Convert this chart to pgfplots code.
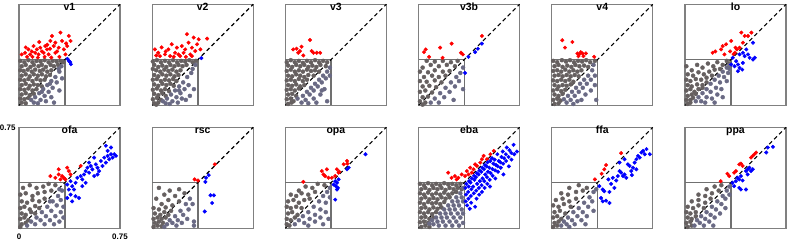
\documentclass[border=0pt]{standalone}
\usepackage{pgfplots}
\pgfplotsset{compat=1.18}
\usepackage{fontspec}
\setmainfont{Liberation Sans}
\definecolor{framegray}{RGB}{128,128,128}
\definecolor{boxgray}{RGB}{112,112,112}
\definecolor{gdark}{RGB}{102,96,96}
\definecolor{gblue}{RGB}{106,106,132}
\pgfplotsset{
 pnl/.style={width=101bp,height=101bp,scale only axis,xmin=0,xmax=0.75,ymin=0,ymax=0.75,
  xtick=\empty,ytick=\empty,axis line style={draw=framegray,line width=1.3bp},anchor=south west,
  title style={at={(0.5,1)},anchor=base,yshift=-12bp,font=\fontsize{10.5}{12}\selectfont\bfseries,inner sep=0pt},
  clip=false,/pgf/number format/assume math mode=true},
 gd/.style={only marks,mark=*,mark size=2.0bp,color=gdark},
 gb/.style={only marks,mark=*,mark size=2.0bp,color=gblue},
 rd/.style={only marks,mark=*,mark size=1.8bp,color=red},
 bl/.style={only marks,mark=*,mark size=1.8bp,color=blue},
 bx/.style={no marks,color=boxgray,line width=1.5bp},
 dg/.style={no marks,color=black,line width=1.1bp,dash pattern=on 4bp off 3bp},
}
\newcommand\boxdiag{%
 \addplot[bx] coordinates {(0,0.34)(0.34,0.34)(0.34,0)};
 \addplot[dg] coordinates {(0,0)(0.75,0.75)};}
\begin{document}
\begin{tikzpicture}
\useasboundingbox (0,0) rectangle (789bp,241bp);
% ---------- v1
\begin{axis}[pnl,at={(19bp,135.7bp)},title={v1}]
\addplot[gd] coordinates {(0.01,0.33)(0.04,0.32)(0.07,0.335)(0.10,0.32)(0.13,0.33)(0.16,0.325)(0.19,0.335)(0.22,0.32)(0.25,0.33)(0.28,0.325)(0.31,0.33)(0.33,0.32)
(0.02,0.29)(0.05,0.30)(0.085,0.285)(0.11,0.30)(0.145,0.29)(0.17,0.30)(0.20,0.285)(0.235,0.30)(0.26,0.29)(0.29,0.30)
(0.01,0.26)(0.035,0.255)(0.065,0.265)(0.095,0.25)(0.12,0.265)(0.155,0.255)(0.18,0.265)(0.21,0.25)(0.24,0.26)
(0.02,0.22)(0.05,0.23)(0.08,0.215)(0.11,0.23)(0.14,0.22)(0.17,0.23)(0.20,0.215)(0.23,0.225)
(0.01,0.19)(0.04,0.185)(0.07,0.195)(0.10,0.18)(0.13,0.195)(0.16,0.185)(0.19,0.19)
(0.02,0.15)(0.05,0.16)(0.08,0.145)(0.11,0.155)(0.14,0.15)(0.17,0.14)
(0.01,0.12)(0.04,0.115)(0.07,0.125)(0.10,0.11)(0.13,0.12)
(0.02,0.08)(0.05,0.09)(0.08,0.075)(0.11,0.085)(0.01,0.05)(0.04,0.045)(0.07,0.055)(0.02,0.02)(0.05,0.015)};
\addplot[gb] coordinates {(0.12,0.06)(0.15,0.09)(0.18,0.12)(0.21,0.15)(0.24,0.18)(0.27,0.21)(0.30,0.25)(0.16,0.04)(0.19,0.07)(0.22,0.10)(0.25,0.13)(0.28,0.17)(0.11,0.02)(0.14,0.015)(0.20,0.03)(0.24,0.06)(0.26,0.02)(0.30,0.11)(0.32,0.20)(0.09,0.04)(0.23,0.16)(0.17,0.10)(0.315,0.29)(0.295,0.27)};
\boxdiag
\addplot[rd] coordinates {(0.02,0.378)(0.045,0.39)(0.07,0.415)(0.083,0.378)(0.095,0.40)(0.108,0.44)(0.12,0.39)(0.133,0.415)(0.145,0.378)(0.158,0.428)(0.17,0.40)(0.183,0.39)(0.195,0.44)(0.208,0.415)(0.22,0.378)(0.233,0.478)(0.245,0.515)(0.258,0.44)(0.27,0.465)(0.283,0.40)(0.295,0.428)(0.308,0.54)(0.32,0.478)(0.333,0.415)(0.345,0.378)(0.358,0.44)(0.37,0.515)(0.383,0.478)(0.06,0.36)(0.10,0.36)(0.14,0.355)(0.19,0.36)(0.24,0.355)(0.30,0.36)(0.05,0.43)(0.23,0.42)(0.15,0.47)(0.27,0.39)(0.35,0.46)(0.21,0.45)};
\addplot[bl] coordinates {(0.36,0.345)(0.37,0.33)(0.38,0.32)(0.385,0.305)};
\end{axis}
% ---------- v2
\begin{axis}[pnl,at={(152.2bp,135.7bp)},title={v2}]
\addplot[gd] coordinates {(0.005,0.325)(0.035,0.335)(0.065,0.32)(0.095,0.33)(0.125,0.32)(0.155,0.335)(0.185,0.32)(0.215,0.33)(0.245,0.325)(0.275,0.335)(0.30,0.32)(0.325,0.33)
(0.015,0.30)(0.045,0.285)(0.075,0.295)(0.105,0.285)(0.135,0.30)(0.165,0.29)(0.195,0.30)(0.225,0.29)(0.255,0.30)
(0.005,0.27)(0.03,0.26)(0.06,0.25)(0.09,0.265)(0.12,0.255)(0.15,0.265)(0.18,0.25)(0.21,0.26)
(0.015,0.225)(0.045,0.215)(0.075,0.23)(0.105,0.22)(0.135,0.23)(0.165,0.215)(0.195,0.225)
(0.005,0.19)(0.035,0.195)(0.065,0.18)(0.095,0.19)(0.125,0.185)(0.155,0.195)(0.18,0.18)
(0.015,0.155)(0.045,0.145)(0.075,0.16)(0.105,0.15)(0.135,0.16)(0.16,0.145)
(0.005,0.115)(0.035,0.125)(0.065,0.11)(0.095,0.12)(0.125,0.105)
(0.015,0.085)(0.045,0.075)(0.075,0.09)(0.10,0.07)(0.005,0.045)(0.035,0.055)(0.065,0.04)(0.015,0.015)(0.045,0.02)(0.03,0.005)};
\addplot[gb] coordinates {(0.11,0.05)(0.14,0.08)(0.17,0.11)(0.20,0.14)(0.23,0.17)(0.26,0.21)(0.29,0.24)(0.15,0.03)(0.18,0.06)(0.21,0.09)(0.24,0.12)(0.27,0.15)(0.10,0.015)(0.13,0.01)(0.19,0.02)(0.22,0.05)(0.28,0.07)(0.31,0.12)(0.25,0.04)(0.08,0.03)(0.20,0.11)(0.30,0.27)(0.32,0.30)};
\boxdiag
\addplot[rd] coordinates {(0.02,0.415)(0.045,0.39)(0.07,0.43)(0.095,0.378)(0.12,0.415)(0.145,0.453)(0.17,0.39)(0.183,0.428)(0.195,0.378)(0.22,0.44)(0.233,0.39)(0.245,0.415)(0.258,0.528)(0.27,0.465)(0.283,0.378)(0.295,0.428)(0.308,0.503)(0.32,0.403)(0.333,0.453)(0.345,0.49)(0.358,0.415)(0.408,0.495)(0.133,0.365)(0.208,0.365)(0.058,0.365)(0.295,0.365)(0.03,0.37)(0.16,0.36)(0.25,0.36)(0.10,0.40)};
\addplot[bl] coordinates {(0.365,0.35)};
\end{axis}
% ---------- v3
\begin{axis}[pnl,at={(285.4bp,135.7bp)},title={v3}]
\addplot[gd] coordinates {(0.01,0.32)(0.04,0.335)(0.07,0.32)(0.10,0.33)(0.13,0.315)(0.16,0.33)(0.19,0.32)(0.22,0.335)(0.25,0.32)(0.28,0.33)(0.31,0.32)
(0.02,0.295)(0.05,0.285)(0.08,0.30)(0.11,0.29)(0.14,0.30)(0.17,0.285)(0.20,0.295)(0.23,0.285)(0.26,0.30)(0.30,0.29)
(0.01,0.255)(0.04,0.265)(0.07,0.25)(0.10,0.26)(0.13,0.25)(0.16,0.265)(0.19,0.255)(0.22,0.26)(0.25,0.25)
(0.02,0.22)(0.05,0.215)(0.08,0.23)(0.11,0.22)(0.14,0.21)(0.17,0.225)(0.21,0.22)
(0.01,0.185)(0.04,0.19)(0.07,0.18)(0.10,0.195)(0.13,0.18)(0.16,0.19)
(0.02,0.15)(0.05,0.145)(0.08,0.155)(0.11,0.14)(0.14,0.15)
(0.01,0.115)(0.04,0.12)(0.07,0.11)(0.10,0.125)(0.02,0.08)(0.05,0.085)(0.08,0.07)(0.01,0.045)(0.04,0.05)(0.06,0.03)(0.02,0.01)(0.045,0.02)};
\addplot[gb] coordinates {(0.13,0.07)(0.16,0.10)(0.19,0.13)(0.22,0.16)(0.25,0.19)(0.28,0.22)(0.31,0.25)(0.33,0.28)(0.15,0.04)(0.18,0.08)(0.21,0.11)(0.24,0.14)(0.27,0.17)(0.30,0.20)(0.33,0.22)(0.12,0.02)(0.17,0.015)(0.21,0.05)(0.26,0.08)(0.29,0.12)(0.31,0.03)(0.09,0.05)(0.23,0.02)(0.27,0.11)};
\boxdiag
\addplot[rd] coordinates {(0.058,0.415)(0.083,0.42)(0.095,0.39)(0.108,0.403)(0.12,0.435)(0.133,0.37)(0.183,0.485)(0.195,0.403)(0.208,0.39)(0.233,0.39)(0.258,0.39)};
\end{axis}
% ---------- v3b
\begin{axis}[pnl,at={(418.6bp,135.7bp)},title={v3b}]
\addplot[gd] coordinates {(0.06,0.33)(0.12,0.325)(0.18,0.33)(0.24,0.32)(0.29,0.33)
(0.03,0.28)(0.09,0.30)(0.15,0.29)(0.21,0.30)(0.27,0.29)(0.01,0.25)(0.07,0.245)(0.12,0.26)(0.18,0.25)(0.23,0.255)
(0.04,0.21)(0.10,0.22)(0.15,0.21)(0.20,0.22)(0.01,0.18)(0.06,0.175)(0.12,0.185)(0.17,0.17)
(0.03,0.14)(0.08,0.145)(0.13,0.135)(0.01,0.10)(0.05,0.11)(0.10,0.095)(0.03,0.06)(0.07,0.065)(0.01,0.03)(0.05,0.02)(0.03,0.005)};
\addplot[gb] coordinates {(0.12,0.05)(0.16,0.09)(0.20,0.13)(0.24,0.17)(0.28,0.21)(0.31,0.24)(0.15,0.02)(0.19,0.06)(0.23,0.10)(0.27,0.14)(0.30,0.18)(0.33,0.12)(0.26,0.04)(0.09,0.02)(0.33,0.28)};
\boxdiag
\addplot[rd] coordinates {(0.04,0.395)(0.053,0.415)(0.078,0.36)(0.16,0.428)(0.178,0.353)(0.245,0.458)(0.315,0.39)(0.328,0.378)(0.47,0.515)};
\addplot[bl] coordinates {(0.37,0.36)(0.42,0.395)(0.44,0.42)(0.47,0.458)(0.345,0.24)};
\end{axis}
% ---------- v4
\begin{axis}[pnl,at={(551.8bp,135.7bp)},title={v4}]
\addplot[gd] coordinates {(0.01,0.33)(0.04,0.32)(0.075,0.335)(0.105,0.325)(0.135,0.335)(0.165,0.32)(0.195,0.33)(0.225,0.325)(0.255,0.335)(0.285,0.32)(0.32,0.33)
(0.02,0.29)(0.05,0.30)(0.08,0.285)(0.115,0.295)(0.145,0.285)(0.175,0.30)(0.205,0.29)(0.24,0.295)(0.27,0.285)
(0.01,0.255)(0.04,0.26)(0.07,0.25)(0.10,0.265)(0.13,0.25)(0.16,0.26)(0.19,0.25)(0.22,0.26)
(0.02,0.22)(0.05,0.225)(0.08,0.215)(0.11,0.225)(0.14,0.215)(0.17,0.225)(0.20,0.215)
(0.01,0.185)(0.04,0.18)(0.07,0.19)(0.10,0.18)(0.13,0.19)(0.16,0.175)
(0.02,0.15)(0.05,0.14)(0.08,0.15)(0.11,0.145)(0.14,0.155)(0.01,0.11)(0.04,0.12)(0.07,0.105)(0.10,0.115)
(0.02,0.08)(0.05,0.07)(0.08,0.085)(0.01,0.04)(0.04,0.05)(0.065,0.035)(0.02,0.01)(0.05,0.015)};
\addplot[gb] coordinates {(0.12,0.07)(0.15,0.10)(0.18,0.13)(0.21,0.16)(0.24,0.19)(0.27,0.22)(0.30,0.26)(0.14,0.04)(0.17,0.07)(0.20,0.10)(0.23,0.13)(0.26,0.16)(0.29,0.19)(0.32,0.22)(0.11,0.02)(0.16,0.01)(0.22,0.04)(0.25,0.08)(0.29,0.11)(0.32,0.15)(0.33,0.04)(0.09,0.045)(0.19,0.03)(0.31,0.30)};
\boxdiag
\addplot[rd] coordinates {(0.078,0.483)(0.153,0.47)(0.098,0.428)(0.19,0.385)(0.203,0.378)(0.215,0.395)(0.228,0.385)(0.235,0.365)(0.253,0.385)(0.198,0.365)(0.315,0.36)};
\end{axis}
% ---------- lo
\begin{axis}[pnl,at={(685bp,135.7bp)},title={lo}]
\addplot[gd] coordinates {(0.01,0.29)(0.05,0.26)(0.09,0.30)(0.13,0.28)(0.17,0.31)(0.21,0.29)(0.24,0.32)(0.28,0.30)(0.31,0.33)(0.33,0.31)
(0.02,0.23)(0.06,0.22)(0.10,0.245)(0.14,0.23)(0.18,0.25)(0.22,0.265)(0.26,0.27)(0.01,0.19)(0.04,0.18)(0.08,0.195)(0.12,0.19)(0.16,0.205)(0.20,0.22)
(0.02,0.15)(0.05,0.14)(0.09,0.155)(0.13,0.15)(0.16,0.17)(0.01,0.11)(0.04,0.12)(0.07,0.10)(0.10,0.12)(0.13,0.13)
(0.02,0.07)(0.05,0.08)(0.08,0.085)(0.01,0.04)(0.04,0.04)(0.06,0.055)(0.02,0.01)(0.04,0.02)};
\addplot[gb] coordinates {(0.10,0.06)(0.13,0.09)(0.16,0.12)(0.19,0.16)(0.22,0.19)(0.25,0.22)(0.28,0.25)(0.31,0.28)(0.33,0.30)(0.12,0.03)(0.16,0.06)(0.19,0.10)(0.23,0.13)(0.26,0.17)(0.29,0.21)(0.32,0.24)(0.15,0.02)(0.20,0.05)(0.24,0.08)(0.27,0.12)(0.31,0.18)(0.33,0.27)(0.08,0.03)(0.22,0.02)(0.28,0.06)};
\boxdiag
\addplot[rd] coordinates {(0.205,0.39)(0.225,0.40)(0.268,0.415)(0.28,0.44)(0.305,0.453)(0.343,0.478)(0.335,0.40)(0.375,0.428)(0.385,0.415)(0.405,0.428)(0.418,0.54)(0.43,0.465)(0.443,0.515)(0.468,0.515)(0.493,0.54)(0.36,0.38)(0.37,0.39)(0.293,0.378)};
\addplot[bl] coordinates {(0.355,0.353)(0.38,0.328)(0.393,0.303)(0.405,0.378)(0.43,0.39)(0.443,0.365)(0.468,0.378)(0.48,0.353)(0.505,0.34)(0.518,0.353)(0.368,0.29)(0.405,0.278)(0.425,0.265)(0.393,0.253)(0.343,0.303)(0.455,0.415)(0.505,0.465)(0.43,0.315)};
\end{axis}
% ---------- ofa
\begin{axis}[pnl,at={(19bp,12.7bp)},title={ofa},xtick={0,0.75},xticklabels={0,0.75},ytick={0.75},yticklabels={0.75},
 major tick length=0pt,tick label style={font=\fontsize{8}{9}\selectfont\bfseries},xticklabel style={yshift=-2.5bp}]
\addplot[gd] coordinates {(0.03,0.30)(0.08,0.32)(0.13,0.30)(0.18,0.31)(0.22,0.33)(0.27,0.32)(0.01,0.25)(0.05,0.26)(0.10,0.24)(0.14,0.26)(0.19,0.27)(0.24,0.28)
(0.02,0.20)(0.06,0.19)(0.10,0.21)(0.15,0.20)(0.19,0.22)(0.01,0.15)(0.04,0.16)(0.08,0.14)(0.12,0.165)(0.15,0.15)
(0.02,0.11)(0.05,0.10)(0.09,0.12)(0.12,0.11)(0.01,0.07)(0.04,0.08)(0.07,0.06)(0.02,0.03)(0.05,0.04)(0.01,0.01)};
\addplot[gb] coordinates {(0.09,0.05)(0.13,0.08)(0.17,0.12)(0.21,0.16)(0.25,0.20)(0.29,0.24)(0.32,0.28)(0.12,0.03)(0.16,0.06)(0.20,0.09)(0.24,0.13)(0.28,0.17)(0.31,0.21)(0.19,0.03)(0.23,0.06)(0.27,0.09)(0.31,0.12)(0.26,0.03)(0.30,0.05)(0.33,0.08)(0.33,0.16)(0.06,0.02)(0.23,0.20)(0.30,0.29)};
\boxdiag
\addplot[rd] coordinates {(0.233,0.388)(0.27,0.375)(0.295,0.438)(0.32,0.388)(0.333,0.375)(0.358,0.45)(0.37,0.425)(0.383,0.40)(0.345,0.363)(0.308,0.363)(0.458,0.463)(0.295,0.40)};
\addplot[bl] coordinates {(0.358,0.325)(0.383,0.35)(0.395,0.313)(0.37,0.288)(0.383,0.25)(0.42,0.238)(0.445,0.225)(0.433,0.375)(0.458,0.388)(0.47,0.363)(0.483,0.40)(0.495,0.425)(0.508,0.45)(0.52,0.413)(0.533,0.463)(0.545,0.438)(0.558,0.388)(0.57,0.475)(0.583,0.45)(0.595,0.425)(0.608,0.50)(0.62,0.463)(0.633,0.525)(0.645,0.488)(0.658,0.538)(0.67,0.513)(0.683,0.55)(0.695,0.525)(0.708,0.55)(0.72,0.538)(0.658,0.575)(0.645,0.613)(0.683,0.60)(0.558,0.525)(0.52,0.488)(0.583,0.40)(0.495,0.338)(0.47,0.313)(0.42,0.338)(0.408,0.288)(0.358,0.225)(0.395,0.20)};
\end{axis}
% ---------- rsc
\begin{axis}[pnl,at={(152.2bp,12.7bp)},title={rsc}]
\addplot[gd] coordinates {(0.05,0.30)(0.13,0.28)(0.20,0.29)(0.09,0.25)(0.17,0.24)(0.24,0.26)(0.03,0.22)(0.12,0.21)(0.20,0.20)(0.07,0.18)(0.15,0.17)(0.01,0.15)(0.05,0.14)(0.10,0.155)(0.14,0.13)(0.02,0.11)(0.06,0.10)(0.09,0.12)(0.12,0.10)(0.01,0.07)(0.04,0.08)(0.07,0.07)(0.10,0.08)(0.02,0.04)(0.05,0.05)(0.08,0.04)(0.01,0.01)(0.04,0.02)(0.07,0.015)};
\addplot[gb] coordinates {(0.13,0.06)(0.17,0.09)(0.21,0.13)(0.25,0.18)(0.28,0.22)(0.11,0.03)(0.15,0.04)(0.19,0.06)(0.23,0.10)(0.27,0.14)(0.18,0.02)(0.22,0.04)(0.26,0.07)(0.31,0.05)(0.30,0.18)(0.09,0.01)(0.31,0.02)};
\boxdiag
\addplot[rd] coordinates {(0.315,0.363)(0.34,0.355)(0.465,0.475)};
\addplot[bl] coordinates {(0.40,0.375)(0.42,0.395)(0.395,0.345)(0.433,0.245)(0.458,0.245)(0.445,0.188)(0.39,0.125)};
\end{axis}
% ---------- opa
\begin{axis}[pnl,at={(285.4bp,12.7bp)},title={opa}]
\addplot[gd] coordinates {(0.10,0.28)(0.15,0.31)(0.20,0.30)(0.24,0.33)(0.29,0.32)(0.04,0.25)(0.08,0.24)(0.12,0.26)(0.17,0.25)(0.22,0.27)
(0.02,0.20)(0.06,0.21)(0.10,0.19)(0.14,0.21)(0.18,0.22)(0.01,0.16)(0.04,0.15)(0.08,0.16)(0.12,0.15)(0.02,0.11)(0.05,0.12)(0.09,0.10)(0.01,0.07)(0.04,0.06)(0.07,0.08)(0.01,0.03)(0.03,0.02)};
\addplot[gb] coordinates {(0.10,0.06)(0.13,0.09)(0.17,0.12)(0.21,0.16)(0.25,0.20)(0.28,0.24)(0.31,0.27)(0.33,0.30)(0.14,0.04)(0.18,0.07)(0.22,0.10)(0.26,0.14)(0.30,0.19)(0.33,0.23)(0.17,0.02)(0.22,0.05)(0.26,0.08)(0.30,0.12)(0.28,0.03)(0.07,0.03)(0.32,0.07)};
\boxdiag
\addplot[rd] coordinates {(0.133,0.345)(0.27,0.425)(0.283,0.40)(0.295,0.388)(0.32,0.375)(0.308,0.438)(0.383,0.438)(0.395,0.413)(0.40,0.42)(0.433,0.475)(0.458,0.50)(0.46,0.48)(0.345,0.375)(0.37,0.388)};
\addplot[bl] coordinates {(0.37,0.35)(0.383,0.338)(0.375,0.313)(0.39,0.30)(0.383,0.288)(0.37,0.213)(0.458,0.438)(0.47,0.45)(0.595,0.55)(0.395,0.363)(0.358,0.325)};
\end{axis}
% ---------- eba
\begin{axis}[pnl,at={(418.6bp,12.7bp)},title={eba}]
\addplot[gd] coordinates {(0.01,0.33)(0.04,0.32)(0.07,0.335)(0.10,0.32)(0.13,0.33)(0.16,0.32)(0.19,0.335)(0.22,0.325)(0.25,0.33)(0.28,0.32)(0.31,0.33)
(0.02,0.29)(0.05,0.30)(0.08,0.285)(0.11,0.30)(0.14,0.29)(0.17,0.30)(0.20,0.285)(0.23,0.30)(0.26,0.29)(0.29,0.30)(0.32,0.29)
(0.01,0.26)(0.04,0.25)(0.07,0.265)(0.10,0.25)(0.13,0.26)(0.16,0.25)(0.19,0.265)(0.22,0.25)(0.25,0.26)(0.28,0.27)
(0.02,0.22)(0.05,0.23)(0.08,0.215)(0.11,0.225)(0.14,0.215)(0.17,0.23)(0.20,0.22)(0.23,0.23)
(0.01,0.19)(0.04,0.18)(0.07,0.195)(0.10,0.185)(0.13,0.19)(0.16,0.18)(0.19,0.195)
(0.02,0.15)(0.05,0.155)(0.08,0.14)(0.11,0.155)(0.14,0.145)(0.17,0.155)(0.01,0.12)(0.04,0.11)(0.07,0.12)(0.10,0.105)(0.13,0.12)
(0.02,0.08)(0.05,0.085)(0.08,0.07)(0.11,0.08)(0.01,0.045)(0.04,0.05)(0.07,0.04)(0.02,0.01)(0.05,0.02)(0.08,0.01)};
\addplot[gb] coordinates {(0.13,0.08)(0.16,0.11)(0.19,0.14)(0.22,0.17)(0.25,0.20)(0.28,0.23)(0.31,0.26)(0.33,0.30)(0.14,0.05)(0.17,0.08)(0.20,0.11)(0.23,0.14)(0.26,0.17)(0.29,0.20)(0.32,0.23)(0.11,0.03)(0.15,0.02)(0.18,0.05)(0.21,0.08)(0.24,0.11)(0.27,0.14)(0.30,0.17)(0.33,0.20)(0.20,0.02)(0.23,0.05)(0.26,0.08)(0.29,0.11)(0.32,0.14)(0.25,0.02)(0.28,0.05)(0.31,0.08)(0.33,0.11)(0.30,0.02)(0.33,0.04)(0.10,0.06)(0.08,0.035)};
\boxdiag
\addplot[rd] coordinates {(0.22,0.413)(0.245,0.375)(0.27,0.388)(0.295,0.375)(0.32,0.40)(0.345,0.388)(0.358,0.425)(0.383,0.45)(0.408,0.438)(0.42,0.475)(0.458,0.488)(0.483,0.538)(0.508,0.513)(0.533,0.55)(0.558,0.575)(0.283,0.363)(0.37,0.40)(0.433,0.463)(0.47,0.513)(0.395,0.413)};
\addplot[bl] coordinates {(0.35,0.20)(0.352,0.25)(0.348,0.30)(0.355,0.33)(0.37,0.22)(0.368,0.27)(0.372,0.31)(0.375,0.35)
(0.39,0.19)(0.388,0.24)(0.392,0.29)(0.385,0.34)(0.395,0.37)(0.41,0.26)(0.405,0.31)(0.415,0.36)(0.412,0.39)
(0.43,0.22)(0.428,0.28)(0.435,0.33)(0.425,0.38)(0.432,0.41)(0.45,0.25)(0.448,0.30)(0.455,0.35)(0.445,0.40)(0.452,0.43)
(0.47,0.27)(0.468,0.32)(0.475,0.37)(0.465,0.42)(0.472,0.45)(0.49,0.30)(0.488,0.35)(0.495,0.40)(0.485,0.44)(0.492,0.47)
(0.51,0.33)(0.508,0.38)(0.515,0.42)(0.505,0.46)(0.512,0.49)(0.53,0.31)(0.528,0.36)(0.535,0.41)(0.525,0.45)(0.532,0.50)
(0.55,0.39)(0.548,0.44)(0.555,0.48)(0.545,0.52)(0.57,0.37)(0.568,0.43)(0.575,0.47)(0.565,0.51)
(0.59,0.42)(0.588,0.46)(0.595,0.50)(0.585,0.55)(0.61,0.45)(0.608,0.49)(0.615,0.53)
(0.63,0.40)(0.628,0.48)(0.635,0.52)(0.625,0.57)(0.65,0.50)(0.648,0.55)(0.655,0.60)
(0.67,0.46)(0.668,0.53)(0.675,0.58)(0.69,0.51)(0.688,0.56)(0.71,0.55)(0.705,0.62)(0.73,0.57)(0.38,0.145)(0.42,0.16)(0.36,0.17)};
\end{axis}
% ---------- ffa
\begin{axis}[pnl,at={(551.8bp,12.7bp)},title={ffa}]
\addplot[gd] coordinates {(0.13,0.30)(0.20,0.32)(0.26,0.30)(0.07,0.26)(0.12,0.25)(0.18,0.27)(0.23,0.28)(0.03,0.21)(0.08,0.22)(0.13,0.20)(0.18,0.22)(0.01,0.17)(0.05,0.16)(0.09,0.18)(0.14,0.16)(0.02,0.12)(0.06,0.13)(0.10,0.11)(0.01,0.08)(0.04,0.09)(0.07,0.07)(0.02,0.04)(0.05,0.05)(0.01,0.01)(0.04,0.02)};
\addplot[gb] coordinates {(0.09,0.05)(0.12,0.08)(0.16,0.12)(0.20,0.15)(0.24,0.19)(0.28,0.23)(0.31,0.27)(0.11,0.03)(0.15,0.06)(0.19,0.09)(0.23,0.12)(0.27,0.16)(0.30,0.20)(0.17,0.03)(0.22,0.06)(0.26,0.09)(0.31,0.13)(0.13,0.01)(0.33,0.29)(0.07,0.02)(0.25,0.03)};
\boxdiag
\addplot[rd] coordinates {(0.32,0.363)(0.37,0.405)(0.39,0.438)(0.403,0.47)(0.515,0.558)};
\addplot[bl] coordinates {(0.353,0.313)(0.378,0.288)(0.39,0.275)(0.365,0.225)(0.378,0.20)(0.403,0.205)(0.428,0.188)(0.42,0.363)(0.453,0.375)(0.478,0.355)(0.49,0.388)(0.503,0.425)(0.515,0.413)(0.528,0.388)(0.54,0.40)(0.553,0.375)(0.503,0.488)(0.54,0.513)(0.565,0.475)(0.578,0.463)(0.59,0.425)(0.603,0.45)(0.615,0.488)(0.628,0.513)(0.64,0.538)(0.653,0.525)(0.665,0.563)(0.678,0.575)(0.69,0.55)(0.703,0.588)(0.728,0.55)(0.628,0.438)(0.595,0.395)(0.465,0.30)(0.428,0.27)(0.44,0.33)};
\end{axis}
% ---------- ppa
\begin{axis}[pnl,at={(685bp,12.7bp)},title={ppa}]
\addplot[gd] coordinates {(0.16,0.29)(0.22,0.31)(0.27,0.32)(0.10,0.25)(0.15,0.24)(0.20,0.26)(0.25,0.28)(0.05,0.20)(0.10,0.21)(0.15,0.19)(0.19,0.22)(0.02,0.16)(0.06,0.15)(0.10,0.17)(0.14,0.15)(0.01,0.12)(0.04,0.11)(0.08,0.12)(0.02,0.08)(0.05,0.07)(0.08,0.09)(0.01,0.04)(0.04,0.05)(0.02,0.01)(0.05,0.02)};
\addplot[gb] coordinates {(0.09,0.06)(0.12,0.09)(0.16,0.12)(0.20,0.16)(0.24,0.20)(0.28,0.24)(0.31,0.28)(0.11,0.04)(0.15,0.07)(0.19,0.10)(0.23,0.14)(0.27,0.18)(0.30,0.22)(0.33,0.25)(0.14,0.02)(0.18,0.05)(0.22,0.08)(0.26,0.11)(0.30,0.15)(0.21,0.02)(0.33,0.31)(0.07,0.02)};
\boxdiag
\addplot[rd] coordinates {(0.265,0.35)(0.315,0.405)(0.328,0.388)(0.365,0.413)(0.378,0.425)(0.403,0.475)(0.415,0.48)(0.428,0.463)(0.503,0.538)(0.515,0.55)(0.528,0.563)(0.49,0.525)};
\addplot[bl] coordinates {(0.353,0.338)(0.378,0.35)(0.39,0.375)(0.403,0.363)(0.415,0.388)(0.428,0.355)(0.453,0.425)(0.465,0.438)(0.478,0.45)(0.49,0.425)(0.503,0.438)(0.403,0.30)(0.415,0.288)(0.453,0.288)(0.615,0.60)(0.653,0.605)(0.603,0.563)(0.465,0.40)(0.365,0.313)};
\end{axis}
\end{tikzpicture}
\end{document}
